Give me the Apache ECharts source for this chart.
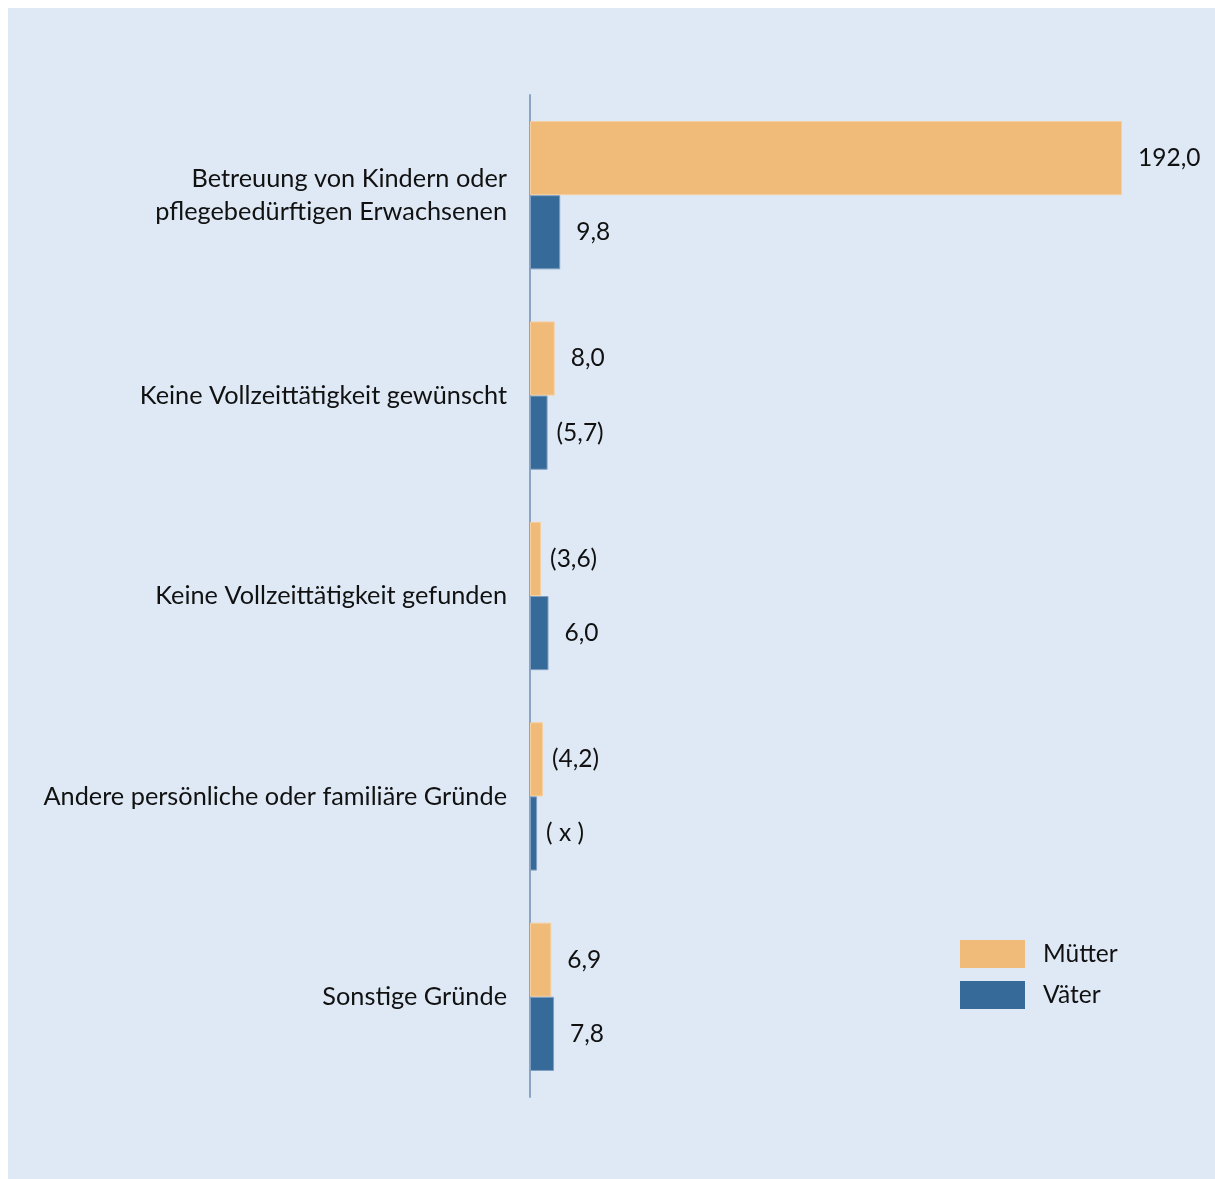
<!DOCTYPE html>
<html>
<head>
<meta charset="utf-8">
<script src="https://cdn.jsdelivr.net/npm/echarts@6/dist/echarts.min.js"></script>
<style>
html,body{margin:0;padding:0;background:#ffffff;}
#chart{width:1215px;height:1179px;}
</style>
</head>
<body>
<div id="chart"></div>
<script>
var categories = [
  'Betreuung von Kindern oder\npflegebedürftigen Erwachsenen',
  'Keine Vollzeittätigkeit gewünscht',
  'Keine Vollzeittätigkeit gefunden',
  'Andere persönliche oder familiäre Gründe',
  'Sonstige Gründe'
];
var seriesNames = ['Mütter', 'Väter'];
var muetterValues = [192.0, 8.0, 3.6, 4.2, 6.9];
var vaeterValues = [9.8, 5.7, 6.0, 2.3, 7.8];
var muetterLabels = ['192,0', '8,0', '(3,6)', '(4,2)', '6,9'];
var vaeterLabels = ['9,8', '(5,7)', '6,0', '( x )', '7,8'];

var FONT = 'Lato';
var FS = 24.5;
var AXIS_FS = 25.3;
function buildData(values, labels) {
  return values.map(function (v, i) {
    var t = labels[i];
    return { value: v, label: { distance: t.charAt(0) === '(' ? 9 : 16 } };
  });
}
function labelFormatter(labels) {
  return function (p) { return labels[p.dataIndex]; };
}

var chart = echarts.init(document.getElementById('chart'), null, { renderer: 'canvas' });
chart.setOption({
  backgroundColor: '#ffffff',
  animation: false,
  graphic: [{
    type: 'rect', z: -10, silent: true,
    shape: { x: 8, y: 8, width: 1207, height: 1171 },
    style: { fill: '#dee9f5' }
  }],
  legend: {
    orient: 'vertical',
    left: 960, top: 940, padding: 0,
    icon: 'rect',
    itemWidth: 65, itemHeight: 28, itemGap: 13,
    itemStyle: { borderWidth: 0 },
    textStyle: { fontFamily: FONT, fontSize: FS, color: '#111111', padding: [0, 0, 0, 13] },
    data: seriesNames
  },
  grid: { left: 530, top: 95, width: 592, height: 1002, containLabel: false },
  xAxis: {
    type: 'value', min: 0, max: 192,
    show: false
  },
  yAxis: {
    type: 'category', inverse: true, data: categories,
    axisLine: { show: true, lineStyle: { color: '#8aa4c4', width: 2 } },
    axisTick: { show: false },
    axisLabel: { fontFamily: FONT, fontSize: AXIS_FS, color: '#111111', margin: 23, lineHeight: 33, align: 'right' }
  },
  series: [{
    name: seriesNames[0], type: 'bar',
    barCategoryGap: '26%', barGap: '0%',
    data: buildData(muetterValues, muetterLabels),
    itemStyle: { color: '#f0bb78', borderColor: '#f5cf9f', borderWidth: 1 },
    label: { show: true, position: 'right', fontFamily: FONT, fontSize: FS, color: '#111111', formatter: labelFormatter(muetterLabels) }
  }, {
    name: seriesNames[1], type: 'bar',
    barCategoryGap: '26%', barGap: '0%',
    data: buildData(vaeterValues, vaeterLabels),
    itemStyle: { color: '#366a98', borderColor: '#7f9fc2', borderWidth: 1 },
    label: { show: true, position: 'right', fontFamily: FONT, fontSize: FS, color: '#111111', formatter: labelFormatter(vaeterLabels) }
  }]
});
</script>
</body>
</html>
